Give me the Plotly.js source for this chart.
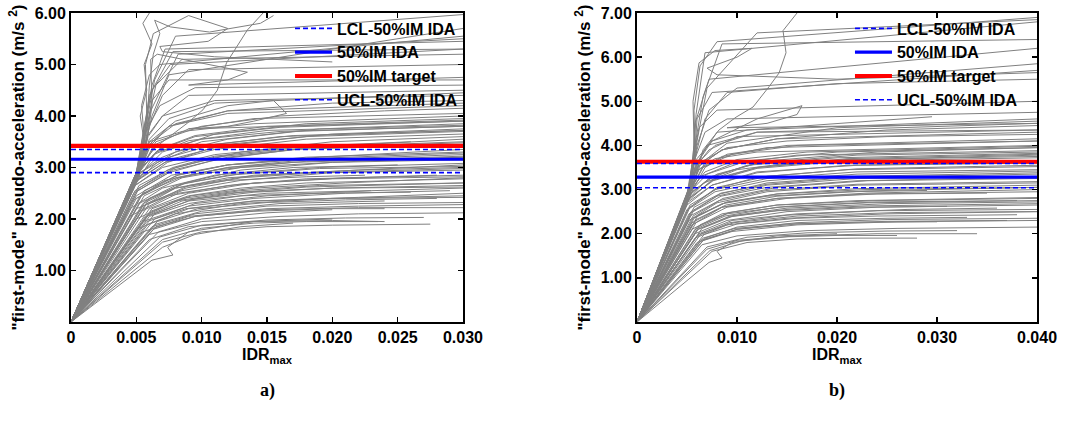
<!DOCTYPE html>
<html>
<head>
<meta charset="utf-8">
<script src="https://cdn.plot.ly/plotly-3.0.1.min.js"></script>
<style>html,body{margin:0;padding:0;background:#fff;}#chart{width:1069px;height:425px;}</style>
</head>
<body>
<div id="chart"></div>
<script>
// ---------- panel a) : IDA curves (IDRmax, first-mode pseudo-acceleration m/s2) ----------
const curvesA_x = [
  [0,0.007,0.010,0.015,0.020,0.0275],
  [0,0.006,0.009,0.014,0.020,0.024],
  [0,0.006,0.010,0.016,0.022,0.030],
  [0,0.0055,0.009,0.015,0.022,0.030],
  [0,0.005,0.008,0.013,0.020,0.030],
  [0,0.0055,0.009,0.014,0.021,0.029],
  [0,0.005,0.008,0.012,0.018,0.030],
  [0,0.0045,0.0075,0.012,0.018,0.030],
  [0,0.005,0.0085,0.013,0.020,0.030],
  [0,0.0045,0.007,0.011,0.017,0.025],
  [0,0.005,0.008,0.012,0.018,0.030],
  [0,0.0048,0.0075,0.011,0.017,0.030],
  [0,0.0052,0.008,0.013,0.020,0.030],
  [0,0.005,0.0075,0.012,0.020,0.030],
  [0,0.0053,0.008,0.012,0.019,0.030],
  [0,0.005,0.007,0.011,0.018,0.030],
  [0,0.006,0.009,0.014,0.022,0.030],
  [0,0.0065,0.010,0.016,0.024],
  [0,0.006,0.0085,0.013,0.019,0.030],
  [0,0.0055,0.008,0.012,0.018,0.030],
  [0,0.0062,0.0095,0.015,0.022,0.030],
  [0,0.0058,0.009,0.015,0.023],
  [0,0.0047,0.0072,0.011,0.017,0.030],
  [0,0.0051,0.0078,0.012,0.019,0.030],
  [0,0.007,0.0095,0.013,0.017],
  [0,0.0062,0.0078,0.0074,0.009,0.014,0.020],
  [0,0.0052,0.0065,0.010,0.016,0.024,0.030],
  [0,0.005,0.006,0.0075,0.012,0.020,0.030],
  [0,0.0053,0.0058,0.007,0.009,0.030],
  [0,0.0051,0.0057,0.0062,0.0075,0.030],
  [0,0.0052,0.0056,0.0054,0.006,0.0068,0.030],
  [0,0.005,0.0055,0.0058,0.0062,0.0072,0.030],
  [0,0.0052,0.0056,0.0053,0.0058,0.0056,0.0062,0.0055,0.0060],
  [0,0.0052,0.0065,0.0089,0.0101,0.0112,0.0119,0.0135,0.0147],
  [0,0.0052,0.0058,0.0057,0.0063,0.0090,0.0120,0.0105,0.0068,0.0070,0.0110,0.0150,0.0200],
  [0,0.0052,0.006,0.008,0.012,0.0155,0.0165,0.0140,0.0120,0.0090,0.0300],
  [0,0.0050,0.0055,0.0060,0.0078,0.0300],
  [0,0.005,0.0058,0.0065,0.0085,0.030],
  [0,0.0052,0.006,0.007,0.0090,0.030],
  [0,0.0053,0.0062,0.0075,0.030],
  [0,0.005,0.0057,0.0068,0.0095,0.030],
  [0,0.0051,0.0059,0.0070,0.0110,0.030],
  [0,0.0049,0.0058,0.0075,0.012,0.030],
  [0,0.0054,0.006,0.0085,0.014,0.030],
  [0,0.005,0.0065,0.010,0.016,0.030],
  [0,0.0056,0.0085,0.013,0.020,0.030],
  [0,0.0060,0.009,0.014,0.021,0.028],
  [0,0.0058,0.0088,0.014,0.022,0.030],
  [0,0.0064,0.0095,0.015,0.023,0.030],
  [0,0.0046,0.007,0.011,0.017,0.026],
  [0,0.0049,0.0074,0.011,0.018,0.030],
  [0,0.0057,0.0087,0.013,0.020,0.030],
  [0,0.0061,0.0092,0.014,0.021,0.030],
  [0,0.0067,0.0100,0.015,0.020],
  [0,0.0053,0.0081,0.012,0.019,0.030],
  [0,0.0051,0.0058,0.0064,0.0080,0.0300],
  [0,0.0054,0.0061,0.0082,0.0300],
  [0,0.0050,0.0056,0.0062,0.0076,0.0300],
  [0,0.0052,0.0058,0.0060,0.0063,0.0068,0.0064,0.0076,0.0106,0.0145,0.0155],
  [0,0.0050,0.0058,0.0062,0.0061,0.0066,0.0135,0.0120,0.0090,0.0300],
  [0,0.0068,0.0100,0.015,0.021,0.027],
  [0,0.0063,0.0095,0.015,0.022,0.030],
  [0,0.0059,0.0090,0.014,0.021,0.030],
  [0,0.0057,0.0085,0.013,0.020,0.030],
  [0,0.0054,0.0082,0.013,0.020,0.030],
  [0,0.0052,0.0080,0.012,0.019,0.030],
  [0,0.0050,0.0077,0.012,0.019,0.030],
  [0,0.0049,0.0074,0.011,0.018,0.030],
  [0,0.0048,0.0072,0.011,0.018,0.030],
  [0,0.0050,0.0070,0.010,0.017,0.030],
  [0,0.0052,0.0068,0.0095,0.016,0.030],
  [0,0.0055,0.0080,0.012,0.018,0.0225],
  [0,0.0060,0.0090,0.013,0.019,0.026],
  [0,0.0065,0.0095,0.014,0.020,0.024],
  [0,0.0070,0.0100,0.014,0.018,0.0235],
  [0,0.0062,0.0090,0.013,0.018,0.030],
  [0,0.0058,0.0088,0.013,0.019,0.030],
  [0,0.0055,0.0083,0.012,0.018,0.030],
  [0,0.0052,0.0078,0.011,0.017,0.030],
  [0,0.0051,0.0075,0.011,0.017,0.030],
  [0,0.0056,0.0082,0.012,0.018,0.030],
  [0,0.0060,0.0088,0.013,0.019,0.030],
  [0,0.0064,0.0093,0.014,0.020,0.030],
  [0,0.0066,0.0097,0.015,0.021,0.028],
  [0,0.0053,0.0065,0.009,0.014,0.030],
  [0,0.0054,0.0062,0.0080,0.012,0.030],
  [0,0.0052,0.0060,0.0075,0.011,0.030],
  [0,0.0051,0.0067,0.0095,0.015,0.030],
  [0,0.0049,0.0063,0.009,0.015,0.030],
  [0,0.0047,0.0066,0.0095,0.016,0.030]
];
const curvesA_y = [
  [0,1.55,1.75,1.85,1.88,1.90],
  [0,1.60,1.85,1.95,1.97,1.95],
  [0,1.70,1.95,2.05,2.10,2.12],
  [0,1.75,2.05,2.20,2.25,2.28],
  [0,1.80,2.10,2.30,2.40,2.45],
  [0,1.95,2.25,2.40,2.50,2.55],
  [0,2.00,2.35,2.50,2.62,2.70],
  [0,2.05,2.45,2.65,2.78,2.85],
  [0,2.20,2.55,2.75,2.90,2.95],
  [0,2.20,2.60,2.85,3.00,3.05],
  [0,2.40,2.80,3.00,3.15,3.25],
  [0,2.50,2.90,3.15,3.35,3.45],
  [0,2.60,3.00,3.30,3.50,3.60],
  [0,2.75,3.15,3.45,3.65,3.75],
  [0,2.90,3.30,3.55,3.75,3.85],
  [0,2.80,3.30,3.65,3.85,3.95],
  [0,2.30,2.65,2.85,2.95,3.00],
  [0,1.90,2.15,2.30,2.35],
  [0,2.10,2.40,2.55,2.65,2.70],
  [0,2.25,2.60,2.80,2.90,3.05],
  [0,1.85,2.10,2.25,2.30,2.32],
  [0,2.05,2.35,2.50,2.55],
  [0,2.35,2.75,2.95,3.10,3.20],
  [0,2.55,2.95,3.20,3.40,3.55],
  [0,1.45,1.70,1.85,1.92],
  [0,1.20,1.30,1.45,1.75,1.95,2.00],
  [0,2.90,3.50,3.80,4.00,4.10,4.15],
  [0,2.80,3.40,3.80,4.10,4.25,4.30],
  [0,3.00,3.60,4.00,4.40,4.50],
  [0,2.90,3.60,4.30,4.70,4.70],
  [0,3.00,3.60,4.20,4.80,5.00,5.55],
  [0,2.80,3.30,4.00,4.60,5.30,5.45],
  [0,3.00,3.50,4.00,4.50,5.00,5.40,5.80,6.00],
  [0,3.00,3.40,3.86,4.12,4.50,5.03,5.67,6.00],
  [0,3.00,4.00,5.00,5.60,5.95,5.70,5.45,5.35,5.25,5.15,5.10,5.05],
  [0,2.90,3.50,3.90,4.20,4.30,4.05,3.90,3.80,3.75,3.90],
  [0,2.90,3.60,4.40,5.25,5.30],
  [0,2.90,3.80,4.60,5.10,5.20],
  [0,2.80,3.80,4.40,4.90,5.00],
  [0,3.00,4.00,4.80,5.70],
  [0,2.90,3.70,4.20,4.55,4.60],
  [0,2.85,3.60,4.00,4.30,4.40],
  [0,2.75,3.40,3.80,4.05,4.20],
  [0,3.00,3.50,3.70,3.85,4.00],
  [0,2.70,3.30,3.55,3.70,3.80],
  [0,2.45,2.80,3.00,3.10,3.15],
  [0,2.20,2.50,2.70,2.80,2.85],
  [0,1.95,2.20,2.35,2.42,2.50],
  [0,2.00,2.30,2.45,2.55,2.60],
  [0,2.60,3.00,3.25,3.40,3.50],
  [0,2.65,3.10,3.40,3.60,3.70],
  [0,2.35,2.70,2.95,3.10,3.20],
  [0,2.15,2.45,2.60,2.70,2.80],
  [0,1.75,2.00,2.12,2.18],
  [0,2.45,2.85,3.05,3.20,3.35],
  [0,2.95,3.90,4.70,5.55,5.97],
  [0,3.05,4.10,5.20,5.50],
  [0,2.90,3.80,4.50,5.00,5.30],
  [0,2.95,3.80,4.60,5.20,5.60,5.86,5.73,5.63,5.80,5.95],
  [0,2.85,3.50,4.20,5.10,5.20,4.85,4.70,4.60,4.75],
  [0,1.65,1.88,1.98,2.02,2.03],
  [0,1.80,2.05,2.18,2.22,2.22],
  [0,1.90,2.20,2.35,2.40,2.42],
  [0,2.05,2.35,2.52,2.60,2.62],
  [0,2.15,2.50,2.68,2.78,2.82],
  [0,2.30,2.65,2.85,2.98,3.02],
  [0,2.45,2.85,3.05,3.18,3.28],
  [0,2.55,2.95,3.20,3.38,3.48],
  [0,2.70,3.10,3.35,3.55,3.65],
  [0,2.85,3.20,3.50,3.70,3.80],
  [0,2.95,3.35,3.60,3.78,3.90],
  [0,2.30,2.60,2.75,2.82,2.85],
  [0,2.05,2.30,2.45,2.50,2.52],
  [0,1.85,2.05,2.15,2.20,2.20],
  [0,1.60,1.82,1.92,1.95,1.95],
  [0,2.20,2.45,2.60,2.70,2.78],
  [0,2.30,2.60,2.80,2.90,2.98],
  [0,2.50,2.80,3.00,3.12,3.22],
  [0,2.65,3.00,3.22,3.38,3.50],
  [0,2.80,3.20,3.45,3.62,3.72],
  [0,2.55,2.85,3.05,3.20,3.30],
  [0,2.40,2.70,2.88,3.00,3.08],
  [0,2.10,2.38,2.52,2.60,2.65],
  [0,1.95,2.20,2.32,2.37,2.40],
  [0,2.95,3.45,3.75,3.95,4.05],
  [0,3.00,3.50,3.85,4.10,4.25],
  [0,2.95,3.55,3.95,4.25,4.45],
  [0,2.90,3.35,3.62,3.80,3.92],
  [0,2.80,3.25,3.52,3.72,3.82],
  [0,2.65,3.10,3.40,3.60,3.72]
];

// ---------- panel b) ----------
const curvesB_x = [
  [0,0.0075,0.011,0.016,0.022,0.028],
  [0,0.007,0.010,0.016,0.024,0.034],
  [0,0.0065,0.010,0.017,0.026,0.040],
  [0,0.006,0.0095,0.016,0.026,0.040],
  [0,0.0058,0.009,0.015,0.025,0.040],
  [0,0.0058,0.009,0.015,0.024,0.040],
  [0,0.0055,0.0085,0.014,0.024,0.040],
  [0,0.0055,0.0085,0.014,0.023,0.040],
  [0,0.0052,0.008,0.013,0.022,0.040],
  [0,0.0052,0.008,0.013,0.022,0.040],
  [0,0.005,0.0078,0.013,0.022,0.040],
  [0,0.005,0.0075,0.012,0.022,0.040],
  [0,0.0052,0.0078,0.012,0.021,0.040],
  [0,0.005,0.0075,0.012,0.022,0.040],
  [0,0.0055,0.008,0.013,0.024,0.040],
  [0,0.0062,0.0095,0.016,0.027,0.036],
  [0,0.0068,0.010,0.016,0.025,0.033],
  [0,0.006,0.009,0.015,0.024,0.038],
  [0,0.0057,0.0088,0.014,0.023,0.040],
  [0,0.0054,0.0083,0.013,0.022,0.040],
  [0,0.0066,0.010,0.016,0.025,0.037],
  [0,0.0072,0.0085,0.0080,0.0095,0.014,0.020],
  [0,0.0061,0.0093,0.015,0.025,0.040],
  [0,0.0059,0.009,0.015,0.024,0.035],
  [0,0.0056,0.0086,0.014,0.023,0.040],
  [0,0.0053,0.008,0.013,0.022,0.040],
  [0,0.0049,0.0074,0.012,0.021,0.040],
  [0,0.0064,0.0097,0.016,0.026,0.040],
  [0,0.0052,0.0062,0.009,0.015,0.025,0.040],
  [0,0.005,0.006,0.0085,0.014,0.025,0.040],
  [0,0.0053,0.006,0.0075,0.011,0.040],
  [0,0.0051,0.0058,0.0068,0.009,0.040],
  [0,0.0052,0.0057,0.0062,0.0080,0.040],
  [0,0.0053,0.0058,0.006,0.0075,0.040],
  [0,0.005,0.0056,0.0058,0.0072,0.040],
  [0,0.0052,0.0058,0.0057,0.0063,0.0080,0.040],
  [0,0.0051,0.0057,0.0059,0.0068,0.040],
  [0,0.0055,0.0066,0.0082,0.0099,0.0116,0.0132,0.0142,0.0149,0.0146,0.0160],
  [0,0.0052,0.0057,0.0056,0.0062,0.0078,0.0115,0.0100,0.0070,0.0080,0.0200,0.0400],
  [0,0.0054,0.006,0.0075,0.012,0.0165,0.0160,0.0130,0.0090,0.0400],
  [0,0.005,0.0058,0.0072,0.010,0.040],
  [0,0.0052,0.0062,0.0085,0.013,0.040],
  [0,0.0049,0.0058,0.0078,0.012,0.040],
  [0,0.0051,0.006,0.0068,0.0090,0.020,0.040],
  [0,0.0053,0.0060,0.0072,0.0100,0.040],
  [0,0.0055,0.0065,0.0080,0.0295],
  [0,0.0050,0.0060,0.0070,0.0120,0.040],
  [0,0.0056,0.0068,0.0090,0.015,0.040],
  [0,0.0052,0.0058,0.0066,0.0085,0.040],
  [0,0.0053,0.0060,0.0070,0.0120,0.040],
  [0,0.0070,0.011,0.017,0.025,0.032],
  [0,0.0064,0.010,0.016,0.025,0.040],
  [0,0.0060,0.0093,0.015,0.024,0.040],
  [0,0.0058,0.0088,0.014,0.023,0.040],
  [0,0.0055,0.0085,0.014,0.023,0.040],
  [0,0.0053,0.0082,0.013,0.022,0.040],
  [0,0.0051,0.0078,0.013,0.022,0.040],
  [0,0.0050,0.0075,0.012,0.021,0.040],
  [0,0.0049,0.0072,0.011,0.020,0.040],
  [0,0.0051,0.0070,0.011,0.020,0.040],
  [0,0.0056,0.0085,0.013,0.021,0.029],
  [0,0.0061,0.0092,0.014,0.022,0.031],
  [0,0.0066,0.0098,0.015,0.022,0.030],
  [0,0.0073,0.0105,0.015,0.020,0.026],
  [0,0.0063,0.0092,0.014,0.022,0.040],
  [0,0.0059,0.0089,0.014,0.023,0.040],
  [0,0.0056,0.0084,0.013,0.022,0.040],
  [0,0.0053,0.0080,0.012,0.021,0.040],
  [0,0.0052,0.0076,0.012,0.021,0.040],
  [0,0.0057,0.0084,0.013,0.021,0.040],
  [0,0.0061,0.0090,0.014,0.022,0.040],
  [0,0.0065,0.0096,0.015,0.023,0.040],
  [0,0.0067,0.0100,0.016,0.024,0.038],
  [0,0.0054,0.0066,0.0095,0.016,0.040],
  [0,0.0055,0.0063,0.0085,0.014,0.040],
  [0,0.0053,0.0061,0.0078,0.012,0.040],
  [0,0.0052,0.0068,0.010,0.017,0.040],
  [0,0.0050,0.0064,0.0095,0.016,0.040],
  [0,0.0048,0.0067,0.010,0.017,0.040],
  [0,0.0056,0.0070,0.0090,0.020,0.040]
];
const curvesB_y = [
  [0,1.60,1.80,1.88,1.90,1.90],
  [0,1.65,1.85,1.95,2.00,2.00],
  [0,1.75,1.95,2.07,2.12,2.15],
  [0,1.80,2.05,2.20,2.27,2.30],
  [0,1.90,2.20,2.35,2.45,2.50],
  [0,2.00,2.30,2.50,2.60,2.65],
  [0,2.10,2.45,2.65,2.75,2.80],
  [0,2.20,2.60,2.80,2.92,3.00],
  [0,2.30,2.70,2.95,3.10,3.15],
  [0,2.45,2.85,3.10,3.25,3.30],
  [0,2.55,3.00,3.25,3.40,3.45],
  [0,2.65,3.10,3.40,3.55,3.60],
  [0,2.80,3.25,3.50,3.68,3.75],
  [0,2.85,3.30,3.60,3.78,3.85],
  [0,2.95,3.35,3.65,3.85,3.95],
  [0,2.00,2.30,2.45,2.55,2.58],
  [0,1.90,2.15,2.30,2.35,2.37],
  [0,2.15,2.45,2.62,2.72,2.75],
  [0,2.35,2.70,2.90,3.00,3.05],
  [0,2.50,2.90,3.15,3.30,3.38],
  [0,1.85,2.10,2.22,2.28,2.30],
  [0,1.35,1.45,1.60,1.80,1.95,2.00],
  [0,2.10,2.40,2.58,2.68,2.72],
  [0,2.25,2.60,2.80,2.90,2.92],
  [0,2.40,2.80,3.05,3.20,3.25],
  [0,2.60,3.05,3.30,3.47,3.55],
  [0,2.70,3.20,3.50,3.70,3.80],
  [0,2.00,2.25,2.40,2.48,2.50],
  [0,3.00,3.60,3.95,4.10,4.20,4.25],
  [0,2.90,3.50,3.90,4.15,4.35,4.45],
  [0,3.05,3.70,4.10,4.35,4.60],
  [0,2.95,3.70,4.30,4.60,4.75],
  [0,3.00,3.80,4.40,4.80,5.00],
  [0,3.00,3.90,4.60,5.20,5.70],
  [0,2.90,3.70,4.50,5.50,6.20],
  [0,3.00,3.90,4.80,5.80,6.35,6.90],
  [0,2.95,3.80,4.70,6.10,6.80],
  [0,3.00,3.90,4.35,4.64,4.87,5.33,5.64,6.10,6.60,7.00],
  [0,3.00,4.00,5.00,5.87,6.15,6.20,6.00,5.75,5.60,5.50,5.65],
  [0,3.00,3.60,4.10,4.60,4.90,4.70,4.50,4.40,4.50],
  [0,2.90,3.50,3.90,4.20,4.35],
  [0,2.95,3.45,3.75,3.95,4.10],
  [0,2.85,3.40,3.70,3.85,4.00],
  [0,2.90,3.90,4.60,5.20,5.40,5.50],
  [0,3.00,4.00,4.80,5.30,5.85],
  [0,3.05,3.80,4.30,4.65],
  [0,2.90,3.60,4.00,4.30,4.35],
  [0,3.00,3.50,3.80,4.00,4.15],
  [0,2.95,4.00,5.10,6.30,6.40],
  [0,3.00,4.10,5.30,6.55,6.85],
  [0,1.70,1.92,2.02,2.06,2.07],
  [0,1.85,2.10,2.25,2.32,2.35],
  [0,1.95,2.25,2.42,2.52,2.55],
  [0,2.10,2.40,2.60,2.70,2.75],
  [0,2.25,2.60,2.80,2.90,2.95],
  [0,2.40,2.75,2.98,3.12,3.18],
  [0,2.55,2.95,3.20,3.35,3.42],
  [0,2.70,3.10,3.38,3.55,3.62],
  [0,2.80,3.25,3.55,3.72,3.82],
  [0,2.90,3.35,3.65,3.85,3.95],
  [0,2.35,2.68,2.85,2.95,2.98],
  [0,2.10,2.38,2.52,2.60,2.62],
  [0,1.90,2.12,2.22,2.26,2.27],
  [0,1.62,1.84,1.93,1.96,1.96],
  [0,2.20,2.48,2.65,2.75,2.82],
  [0,2.32,2.65,2.85,2.97,3.05],
  [0,2.50,2.85,3.05,3.20,3.28],
  [0,2.65,3.02,3.28,3.45,3.52],
  [0,2.80,3.20,3.48,3.65,3.72],
  [0,2.60,2.92,3.12,3.27,3.35],
  [0,2.42,2.72,2.90,3.02,3.10],
  [0,2.12,2.40,2.55,2.63,2.68],
  [0,1.98,2.22,2.35,2.40,2.43],
  [0,3.00,3.50,3.80,4.00,4.10],
  [0,3.05,3.55,3.90,4.15,4.30],
  [0,3.00,3.60,4.00,4.30,4.50],
  [0,2.95,3.40,3.68,3.85,3.98],
  [0,2.85,3.30,3.58,3.78,3.88],
  [0,2.70,3.15,3.45,3.65,3.78],
  [0,3.10,3.70,4.05,4.40,4.55]
];

// reference lines: LCL, median IDA, target, UCL
const refNames = ['LCL-50%IM IDA', '50%IM IDA', '50%IM target', 'UCL-50%IM IDA'];
const refA = [2.90, 3.16, 3.42, 3.35];
const refB = [3.04, 3.28, 3.63, 3.59];
const xMaxA = 0.030, xMaxB = 0.040;
const yMaxA = 6, yMaxB = 7;

// tick values and labels
const xTicksA = [0, 0.005, 0.010, 0.015, 0.020, 0.025, 0.030];
const xLabelsA = ['0', '0.005', '0.010', '0.015', '0.020', '0.025', '0.030'];
const xTicksB = [0, 0.010, 0.020, 0.030, 0.040];
const xLabelsB = ['0', '0.010', '0.020', '0.030', '0.040'];
const yTicksA = [1, 2, 3, 4, 5, 6];
const yLabelsA = ['1.00', '2.00', '3.00', '4.00', '5.00', '6.00'];
const yTicksB = [1, 2, 3, 4, 5, 6, 7];
const yLabelsB = ['1.00', '2.00', '3.00', '4.00', '5.00', '6.00', '7.00'];
const captions = ['a)', 'b)'];

// ---------- build traces ----------
const GRAY = 'rgb(128,128,128)';
const refStyles = [
  {color: 'rgb(0,0,255)', width: 1.6, dash: '5px,3px'},
  {color: 'rgb(0,0,255)', width: 3.2, dash: 'solid'},
  {color: 'rgb(255,0,0)', width: 4.2, dash: 'solid'},
  {color: 'rgb(0,0,255)', width: 1.6, dash: '5px,3px'}
];
const drawOrder = [2, 1, 0, 3];
const traces = [];
function addCurves(xs, ys, xa, ya) {
  xs.forEach((x, i) => traces.push({
    x: x, y: ys[i], xaxis: xa, yaxis: ya, type: 'scatter', mode: 'lines',
    line: {color: GRAY, width: 1}, showlegend: false, hoverinfo: 'skip'
  }));
}
addCurves(curvesA_x, curvesA_y, 'x', 'y');
addCurves(curvesB_x, curvesB_y, 'x2', 'y2');
function addRefs(vals, xMax, xa, ya, leg) {
  drawOrder.forEach(k => traces.push({
    x: [0, xMax], y: [vals[k], vals[k]], xaxis: xa, yaxis: ya, type: 'scatter', mode: 'lines',
    name: refNames[k], legend: leg, legendrank: k + 1,
    line: refStyles[k]
  }));
}
addRefs(refA, xMaxA, 'x', 'y', 'legend');
addRefs(refB, xMaxB, 'x2', 'y2', 'legend2');

const FONT = 'Liberation Sans, Arial, sans-serif';
const tickFont = {family: FONT, size: 16, color: '#000', weight: 'bold'};
const titleFont = {family: FONT, size: 16, color: '#000', weight: 'bold'};
const yTitleFont = {family: FONT, size: 17, color: '#000', weight: 'bold'};
function xAxis(dom, ticks, labels, xMax, anchor) {
  return {
    domain: dom, anchor: anchor, range: [0, xMax], tickmode: 'array', tickvals: ticks, ticktext: labels,
    ticks: 'inside', ticklen: 5, tickwidth: 1.5, tickcolor: '#000', showline: true, linewidth: 2,
    linecolor: '#000', mirror: 'ticks', showgrid: false, zeroline: false, tickfont: tickFont,
    title: {text: 'IDR<sub>max</sub>', font: titleFont, standoff: 4}, automargin: false
  };
}
function yAxis(dom, ticks, labels, yMax, anchor) {
  return {
    domain: dom, anchor: anchor, range: [0, yMax], tickmode: 'array', tickvals: ticks, ticktext: labels,
    ticks: 'inside', ticklen: 5, tickwidth: 1.5, tickcolor: '#000', showline: true, linewidth: 2,
    linecolor: '#000', mirror: 'ticks', showgrid: false, zeroline: false, tickfont: tickFont,
    title: {text: '"first-mode" pseudo-acceleration (m/s <sup>2</sup>)', font: yTitleFont, standoff: 6},
    automargin: false
  };
}
const legendStyle = {
  bgcolor: 'rgba(0,0,0,0)', borderwidth: 0, font: {family: FONT, size: 16, color: '#000', weight: 'bold'},
  xanchor: 'left', yanchor: 'top', tracegroupgap: 0, itemwidth: 37, traceorder: 'normal'
};
const layout = {
  width: 1069, height: 425, margin: {l: 0, r: 0, t: 0, b: 0},
  paper_bgcolor: '#fff', plot_bgcolor: '#fff', showlegend: true,
  xaxis: xAxis([0.0664, 0.4331], xTicksA, xLabelsA, xMaxA, 'y'),
  yaxis: yAxis([0.2424, 0.9694], yTicksA, yLabelsA, yMaxA, 'x'),
  xaxis2: xAxis([0.5959, 0.9701], xTicksB, xLabelsB, xMaxB, 'y2'),
  yaxis2: yAxis([0.2424, 0.9694], yTicksB, yLabelsB, yMaxB, 'x2'),
  legend: Object.assign({x: 0.2713, y: 0.973}, legendStyle),
  legend2: Object.assign({x: 0.7951, y: 0.973}, legendStyle),
  annotations: captions.map((c, i) => ({
    text: c, xref: 'paper', yref: 'paper', x: [0.2498, 0.783][i], y: 0.082,
    xanchor: 'center', yanchor: 'middle', showarrow: false,
    font: {family: 'Liberation Serif, Times New Roman, serif', size: 18, color: '#000', weight: 'bold'}
  }))
};
Plotly.newPlot('chart', traces, layout, {displayModeBar: false, staticPlot: true});
</script>
</body>
</html>
